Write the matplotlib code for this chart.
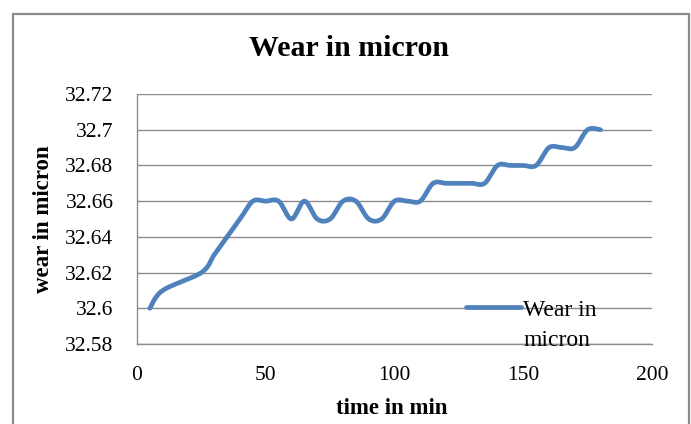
import numpy as np
import matplotlib.pyplot as plt
from matplotlib.patches import Rectangle
from matplotlib.transforms import Affine2D

# Measured wear over time
time_min = [5, 10, 25, 30, 35, 40, 45, 50, 55, 60, 65, 70, 75, 80, 85, 90, 95,
            100, 105, 110, 115, 120, 125, 130, 135, 140, 145, 150, 155, 160,
            165, 170, 175, 180]
wear_micron = [32.60, 32.61, 32.62, 32.63, 32.64, 32.65, 32.66, 32.66, 32.66,
               32.65, 32.66, 32.65, 32.65, 32.66, 32.66, 32.65, 32.65, 32.66,
               32.66, 32.66, 32.67, 32.67, 32.67, 32.67, 32.67, 32.68, 32.68,
               32.68, 32.68, 32.69, 32.69, 32.69, 32.70, 32.70]

x_ticks = [0, 50, 100, 150, 200]
y_ticks = [32.58, 32.60, 32.62, 32.64, 32.66, 32.68, 32.70, 32.72]
y_tick_labels = ["32.58", "32.6", "32.62", "32.64", "32.66", "32.68", "32.7", "32.72"]


def smooth_curve(xs, ys, n=40):
    """Cubic Bezier smoothing through every point (spreadsheet-style)."""
    P = np.column_stack([xs, ys]).astype(float)
    t = np.linspace(0, 1, n)[1:, None]
    out = [P[0]]
    for i in range(len(P) - 1):
        p0 = P[i - 1] if i > 0 else P[i]
        p1, p2 = P[i], P[i + 1]
        p3 = P[i + 2] if i + 2 < len(P) else P[i + 1]
        c1 = p1 + (p2 - p0) / 6.0
        c2 = p2 - (p3 - p1) / 6.0
        seg = ((1 - t) ** 3) * p1 + 3 * ((1 - t) ** 2) * t * c1 \
            + 3 * (1 - t) * t ** 2 * c2 + t ** 3 * p2
        out.extend(seg)
    out = np.array(out)
    return out[:, 0], out[:, 1]


W, H = 691, 424
plt.rcParams['font.family'] = ['Liberation Serif', 'DejaVu Serif']
fig = plt.figure(figsize=(W / 100, H / 100), dpi=100)

# chart frame
fig.patches.append(Rectangle((13 / W, -0.05), 676 / W, 1.05 - 14 / H,
                             transform=fig.transFigure, fill=False,
                             edgecolor='#8c8c8c', linewidth=1.6))

ax = fig.add_axes([137 / W, 1 - 344 / H, (652 - 137) / W, (344 - 94) / H])

sx, sy = smooth_curve(time_min, wear_micron)
ax.plot(sx, sy, color='#4F81BD', linewidth=3.4, solid_capstyle='round',
        label='Wear in', zorder=3)

ax.set_xlim(0, 200)
ax.set_ylim(32.58, 32.72)
ax.set_xticks(x_ticks)
ax.set_yticks(y_ticks)
ax.set_yticklabels(y_tick_labels)
ax.tick_params(axis='both', length=0, labelsize=15.5, colors='black')
ax.tick_params(axis='y', pad=17)
ax.tick_params(axis='x', pad=15.5)

ax.grid(axis='y', color='#8c8c8c', linewidth=1.0)
ax.set_axisbelow(True)
for side in ['top', 'right']:
    ax.spines[side].set_visible(False)
for side in ['left', 'bottom']:
    ax.spines[side].set_color('#8c8c8c')
    ax.spines[side].set_linewidth(1.0)

fig.text(349 / W, 1 - 49 / H, 'Wear in micron', ha='center', va='center',
         fontsize=21.5, fontweight='bold')
fig.text(392 / W, 1 - 409 / H, 'time in min', ha='center', va='center',
         fontsize=16.5, fontweight='bold')
fig.text(44 / W, 1 - 219 / H, 'wear in micron', ha='center', va='center',
         fontsize=16.5, fontweight='bold', rotation=90)

leg = ax.legend(loc='upper left', bbox_to_anchor=(466 / W, 1 - 299 / H),
                bbox_transform=fig.transFigure, frameon=False, fontsize=17,
                handlelength=2.35, handletextpad=0.07, borderpad=0,
                borderaxespad=0)

# second line of the legend label, wrapped below the first
fig.canvas.draw()
lt = leg.get_texts()[0]
bx, by = lt.get_transform().transform(lt.get_position())
fig.text(0, 0, 'micron', fontsize=17, ha='left', va='baseline',
         transform=Affine2D().translate(bx, by - 30))

fig.savefig('out.png', dpi=100)
